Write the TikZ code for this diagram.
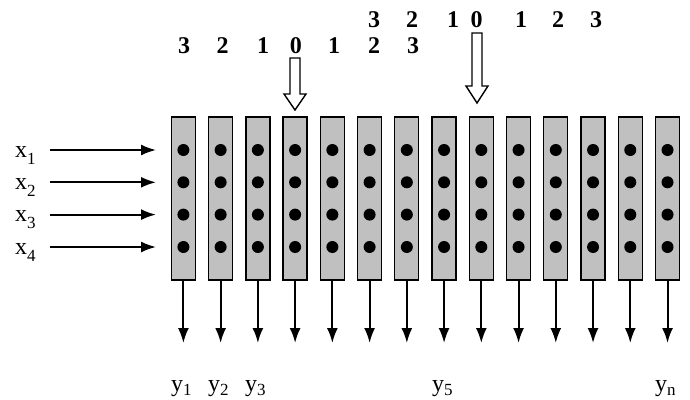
\documentclass[tikz,border=0pt]{standalone}
\usepackage{fontspec}
\setmainfont{Liberation Serif}
\usetikzlibrary{arrows.meta}
\definecolor{colgray}{RGB}{192,192,192}
\begin{document}
\begin{tikzpicture}[x=1pt,y=-1pt,
  colbox/.style={draw=black, line width=1.3pt, fill=colgray, minimum width=24pt, minimum height=163pt, inner sep=0pt},
  dotnode/.style={circle, fill=black, inner sep=0pt, minimum size=12pt},
  arr/.style={-{Latex[length=15pt,width=11pt]}, line width=2pt},
  blockarrow/.style={draw=black, line width=1.4pt, fill=white},
  num/.style={font=\fontsize{24}{24}\selectfont\bfseries, inner sep=0pt, anchor=base},
  lab/.style={font=\fontsize{24}{24}\selectfont, inner sep=0pt, anchor=base west}]
\useasboundingbox (0,0) rectangle (690,399);
% columns
\foreach \i in {1,...,14} {
  \pgfmathsetmacro\cx{183.4+(\i-1)*37.24}
  \node[colbox] (c\i) at (\cx,198.5) {};
  \foreach \j/\yy in {1/150,2/182.3,3/214.6,4/247} {
    \node[dotnode] (d\i-\j) at (\cx,\yy) {};
  }
  \coordinate (e\i) at (\cx,343);
  \draw[arr] (c\i.south) -- (e\i);
}
% input arrows and labels
\foreach \j/\yy in {1/150,2/182.3,3/214.6,4/247} {
  \coordinate (s\j) at (50,\yy);
  \coordinate (t\j) at (156,\yy);
  \draw[arr] (s\j) -- (t\j);
  \node[lab] (x\j) at (15,\yy+7) {x\raisebox{-7pt}{\fontsize{17}{17}\selectfont \j}};
}
% output labels
\node[lab] (y1) at (171,391) {y\raisebox{-4pt}{\fontsize{17}{17}\selectfont 1}};
\node[lab] (y2) at (208,391) {y\raisebox{-4pt}{\fontsize{17}{17}\selectfont 2}};
\node[lab] (y3) at (245,391) {y\raisebox{-4pt}{\fontsize{17}{17}\selectfont 3}};
\node[lab] (y5) at (432,391) {y\raisebox{-4pt}{\fontsize{17}{17}\selectfont 5}};
\node[lab] (yn) at (655,391) {y\raisebox{-4pt}{\fontsize{17}{17}\selectfont n}};
% top numbers row 1
\foreach \xx/\t [count=\k] in {184/3,222.5/2,263/1,295.8/0,334/1,374/2,413/3} {
  \node[num] (r1n\k) at (\xx,53) {\t};
}
% top numbers row 2
\foreach \xx/\t [count=\k] in {374/3,412/2,453/1,476.5/0,521/1,558/2,596/3} {
  \node[num] (r2n\k) at (\xx,27) {\t};
}
% block arrows
\coordinate (a1) at (295,58);
\draw[blockarrow] (a1) ++(-5,0) -- ++(10,0) -- ++(0,36) -- ++(6,0) -- ++(-11,16) -- ++(-11,-16) -- ++(6,0) -- cycle;
\coordinate (a2) at (477,33);
\draw[blockarrow] (a2) ++(-5,0) -- ++(10,0) -- ++(0,53) -- ++(6,0) -- ++(-11,17) -- ++(-11,-17) -- ++(6,0) -- cycle;
\end{tikzpicture}
\end{document}
